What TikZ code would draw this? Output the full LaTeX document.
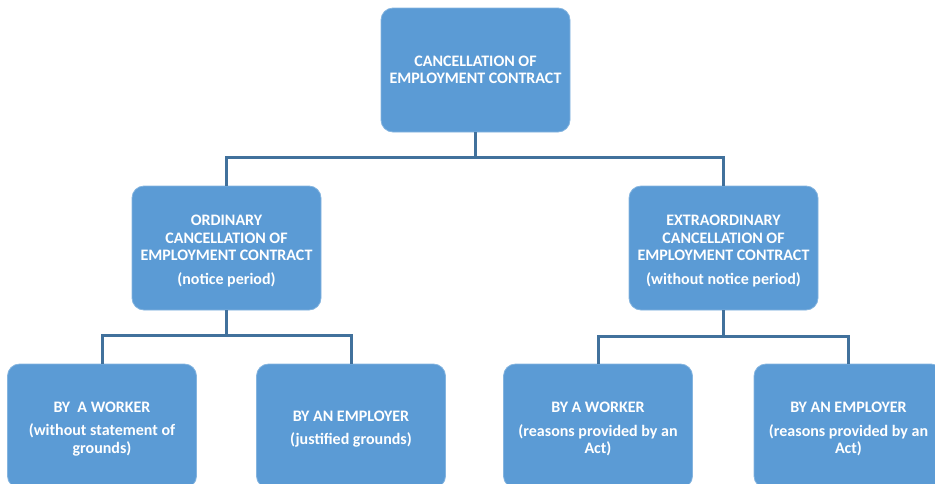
\documentclass[tikz,border=0pt]{standalone}
\usepackage{fontspec}
\setmainfont{Carlito}
\definecolor{boxblue}{HTML}{5B9BD5}
\definecolor{linkblue}{HTML}{41719C}
% extra room above the first line of a box text
\newcommand\toppad{\rule{0pt}{16.5pt}}
\begin{document}
\begin{tikzpicture}[x=1pt,y=-1pt,
  box/.style={rectangle, rounded corners=12pt, fill=boxblue,
    draw=boxblue!75!white, line width=0.8pt,
    minimum width=189pt, minimum height=124pt, inner sep=0pt,
    text=white, align=center,
    font=\bfseries\fontsize{16}{17.5}\selectfont},
  link/.style={draw=linkblue, line width=3pt}]
\useasboundingbox (0,0) rectangle (935,483);
\clip (0,0) rectangle (935,483);

% boxes
\node[box] (top) at (475.5,70) {CANCELLATION OF\\EMPLOYMENT CONTRACT};
\node[box] (ord) at (226.5,248) {\toppad ORDINARY\\CANCELLATION OF\\EMPLOYMENT CONTRACT\\[6pt](notice period)};
\node[box] (ext) at (723.5,248) {\toppad EXTRAORDINARY\\CANCELLATION OF\\EMPLOYMENT CONTRACT\\[6pt](without notice period)};
\node[box] (w1) at (102,426) {\toppad BY\ \ A WORKER\\[6pt](without statement of\\grounds)};
\node[box] (e1) at (351,426) {\toppad BY AN EMPLOYER\\[6pt](justified grounds)};
\node[box] (w2) at (598,426) {\toppad BY A WORKER\\[6pt](reasons provided by an\\Act)};
\node[box] (e2) at (848.5,426) {\toppad BY AN EMPLOYER\\[6pt](reasons provided by an\\Act)};

% elbow connectors through a horizontal bus
\coordinate (busA) at (475.5,157);
\draw[link] (top.south) -- (busA);
\draw[link] (ord.north) |- (busA) -| (ext.north);

\coordinate (busB) at (226.5,335);
\draw[link] (ord.south) -- (busB);
\draw[link] (w1.north) |- (busB) -| (e1.north);

\coordinate (busC) at (723.5,336);
\draw[link] (ext.south) -- (busC);
\draw[link] (w2.north) |- (busC) -| (e2.north);
\end{tikzpicture}
\end{document}
